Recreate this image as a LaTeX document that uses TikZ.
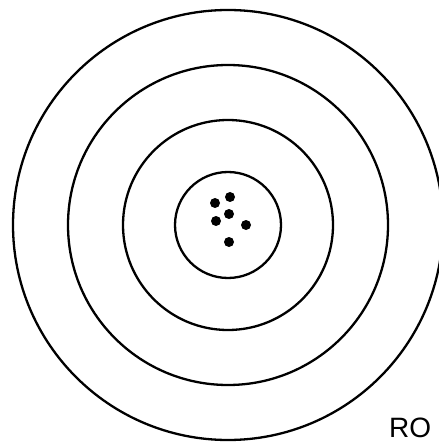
\documentclass[tikz,border=0pt]{standalone}
\usepackage{fontspec}
\setmainfont{Liberation Sans}

\tikzset{
  ring/.style={line width=2.3pt, color=black},
  shot/.style={fill=black}
}

\begin{document}
\begin{tikzpicture}[x=1pt, y=-1pt]
    \useasboundingbox (0,0) rectangle (438,443);
    \coordinate (ctr) at (228,225);

    % Target rings
    \foreach \r in {53,105,160,215} {
        \draw[ring] (ctr) circle (\r);
    }

    % Shot group
    \foreach \p in {(215,203),(230,197),(229,214),(216,221),(246,225),(229,242)} {
        \fill[shot] \p circle (5);
    }

    \node[anchor=base west, inner sep=0pt, font=\fontsize{28}{28}\selectfont] (tag) at (389,437) {RO};
\end{tikzpicture}
\end{document}
